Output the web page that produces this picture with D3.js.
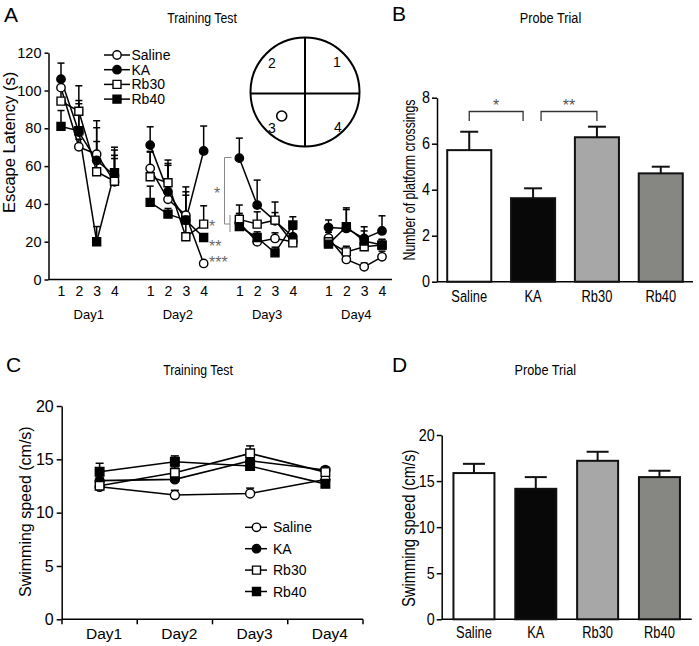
<!DOCTYPE html>
<html><head><meta charset="utf-8">
<script src="https://cdn.jsdelivr.net/npm/d3@7"></script>
<style>body{margin:0;background:#fff} svg{display:block;background:#fff}</style>
</head><body><svg id="c" width="699" height="646"></svg>
<script>
// ---------------- DATA ----------------
const groups = ["Saline", "KA", "Rb30", "Rb40"];
const days = ["Day1", "Day2", "Day3", "Day4"];
const trials = ["1", "2", "3", "4"];
const quadrants = ["1", "2", "3", "4"];

// Panel A: escape latency (s), 4 days x 4 trials (day-major)
const latencyTicks = [0, 20, 40, 60, 80, 100, 120];
const salineLatency = [101.5, 70.2, 66.3, 51.7, 58.8, 42.4, 34.0, 8.5, 30.0, 19.9, 21.7, 20.0, 22.0, 10.6, 6.7, 12.0];
const kaLatency     = [106.0, 78.0, 63.0, 55.0, 71.1, 46.4, 31.4, 68.0, 64.2, 39.4, 31.0, 22.6, 27.5, 27.0, 21.7, 25.7];
const rb30Latency   = [94.4, 89.0, 57.0, 52.0, 54.4, 51.2, 22.6, 29.3, 31.8, 29.3, 31.4, 19.4, 20.0, 14.6, 17.3, 18.2];
const rb40Latency   = [81.0, 78.7, 20.0, 56.5, 40.8, 34.6, 31.4, 22.2, 28.0, 22.2, 14.1, 28.8, 18.7, 27.9, 20.4, 18.2];
const salineLatencyErr = [5, 4, 14, 14, 9, 18, 15, 1, 4, 3, 3, 3, 3, 2, 2, 3];
const kaLatencyErr     = [8.5, 15, 21, 13.5, 9.7, 15, 15, 13.2, 10.6, 13.2, 10, 4, 4, 10, 4, 8];
const rb30LatencyErr   = [6, 13.5, 16, 12, 13, 12, 22, 9.7, 7.6, 6.5, 4, 3, 3, 3, 3, 3];
const rb40LatencyErr   = [8.4, 16, 8, 13.5, 8.6, 3, 3, 2, 7, 3, 3, 4.4, 3, 10, 7.5, 3];

// Panel B: number of platform crossings
const crossingTicks = [0, 2, 4, 6, 8];
const crossings = [5.72, 3.63, 6.28, 4.71];
const crossingsErr = [0.80, 0.43, 0.46, 0.29];
const crossingStars = ["*", "**"];

// Panel C: swimming speed (cm/s) per training day
const speedTicks = [0, 5, 10, 15, 20];
const salineSpeed = [12.43, 11.65, 11.80, 13.10];
const kaSpeed     = [13.00, 13.12, 14.87, 14.00];
const rb30Speed   = [12.52, 13.74, 15.56, 13.80];
const rb40Speed   = [13.83, 14.77, 14.37, 12.70];
const salineSpeedErr = [0.2, 0.45, 0.5, 0.2];
const kaSpeedErr     = [0.3, 0.3, 0.4, 0.3];
const rb30SpeedErr   = [0.3, 0.55, 0.7, 0.3];
const rb40SpeedErr   = [0.8, 0.55, 0.3, 0.3];

// Panel D: swimming speed (cm/s) in probe trial
const probeSpeed = [15.87, 14.16, 17.20, 15.43];
const probeSpeedErr = [1.00, 1.27, 0.98, 0.69];

// ---------------- STYLE ----------------
const REG = "'Liberation Sans', Arial, Helvetica, sans-serif";
const NAR = "NARROW";
const marker = {
  Saline: {type: d3.symbolCircle, size: 55, fill: "#fff"},
  KA:     {type: d3.symbolCircle, size: 55, fill: "#000"},
  Rb30:   {type: d3.symbolSquare, size: 64, fill: "#fff"},
  Rb40:   {type: d3.symbolSquare, size: 64, fill: "#000"}
};
const barFill = {Saline: "#ffffff", KA: "#080808", Rb30: "#a7a7a7", Rb40: "#868682"};

const svg = d3.select("#c");

function narrowen(sel, factor) {
  sel.each(function () {
    const w = this.getComputedTextLength();
    if (w > 0) d3.select(this).attr("textLength", w * factor).attr("lengthAdjust", "spacingAndGlyphs");
  });
}
function styleAxis(g, font, size, factor = 0.82) {
  g.attr("font-family", REG).attr("font-size", size);
  g.selectAll("text").attr("fill", "#000");
  g.selectAll("line").attr("stroke", "#000").attr("stroke-width", 1.5);
  g.select(".domain").attr("stroke", "#000").attr("stroke-width", 1.5);
  if (font === NAR) narrowen(g.selectAll("text"), factor);
}
function text(x, y, s, opts = {}) {
  const t = svg.append("text").attr("x", x).attr("y", y).text(s)
    .attr("font-family", REG).attr("font-size", opts.size || 14)
    .attr("fill", opts.fill || "#000").attr("text-anchor", opts.anchor || "start");
  if (opts.rotate) t.attr("transform", `rotate(-90,${x},${y})`);
  if (opts.font === NAR) narrowen(t, opts.factor || 0.82);
  return t;
}

// ---------------- PANEL A ----------------
const latency = {Saline: salineLatency, KA: kaLatency, Rb30: rb30Latency, Rb40: rb40Latency};
const latencyErr = {Saline: salineLatencyErr, KA: kaLatencyErr, Rb30: rb30LatencyErr, Rb40: rb40LatencyErr};
const slot = (d, t) => d * 5 + t;
const xA = d3.scaleLinear().domain([0, 18]).range([61, 382]);
const yA = d3.scaleLinear().domain([0, 120]).range([279.5, 52.7]);

text(4, 22, "A", {size: 21});
text(202, 23, "Training Test", {font: NAR, size: 15, anchor: "middle"});
text(14.5, 142.5, "Escape Latency (s)", {size: 16.5, anchor: "middle", rotate: true});

const gyA = svg.append("g").attr("transform", "translate(48.5,0)")
  .call(d3.axisLeft(yA).tickValues(latencyTicks).tickSize(4).tickSizeOuter(0).tickPadding(3));
styleAxis(gyA, REG, 14.5);
svg.append("line").attr("x1", 48.5).attr("x2", 392).attr("y1", 279.5).attr("y2", 279.5)
  .attr("stroke", "#000").attr("stroke-width", 1.5);

const slotsAll = [], slotLabel = {};
days.forEach((d, di) => trials.forEach((t, ti) => { slotsAll.push(slot(di, ti)); slotLabel[slot(di, ti)] = t; }));
const gxA = svg.append("g").attr("transform", "translate(0,279.5)")
  .call(d3.axisBottom(xA).tickValues(slotsAll).tickFormat(v => slotLabel[v]).tickSize(0).tickPadding(7));
styleAxis(gxA, REG, 14);
gxA.select(".domain").remove();
gxA.selectAll("text").attr("dy", "0.71em");
days.forEach((d, di) => {
  text((xA(slot(di, 0)) + xA(slot(di, 3))) / 2 + 1, 318.5, d, {size: 13, anchor: "middle"});
});

// error bars A
groups.forEach(g => {
  days.forEach((d, di) => trials.forEach((t, ti) => {
    const i = di * 4 + ti, x = xA(slot(di, ti));
    const v = latency[g][i], e = latencyErr[g][i];
    svg.append("line").attr("x1", x).attr("x2", x).attr("y1", yA(v)).attr("y2", yA(v + e))
      .attr("stroke", "#000").attr("stroke-width", 1.5);
    svg.append("line").attr("x1", x - 3.5).attr("x2", x + 3.5).attr("y1", yA(v + e)).attr("y2", yA(v + e))
      .attr("stroke", "#000").attr("stroke-width", 1.5);
  }));
});
// lines A
const lineA = d3.line().x(p => xA(p[0])).y(p => yA(p[1]));
groups.forEach(g => {
  days.forEach((d, di) => {
    const pts = trials.map((t, ti) => [slot(di, ti), latency[g][di * 4 + ti]]);
    svg.append("path").attr("d", lineA(pts)).attr("fill", "none").attr("stroke", "#000").attr("stroke-width", 1.5);
  });
});
// markers A
groups.forEach(g => {
  const sym = d3.symbol().type(marker[g].type).size(marker[g].size);
  days.forEach((d, di) => trials.forEach((t, ti) => {
    svg.append("path").attr("d", sym())
      .attr("transform", `translate(${xA(slot(di, ti))},${yA(latency[g][di * 4 + ti])})`)
      .attr("fill", marker[g].fill).attr("stroke", "#000").attr("stroke-width", 1.4);
  }));
});
// legend A
groups.forEach((g, i) => {
  const y = 55 + i * 14.7;
  svg.append("line").attr("x1", 104).attr("x2", 130).attr("y1", y).attr("y2", y).attr("stroke", "#000").attr("stroke-width", 1.5);
  svg.append("path").attr("d", d3.symbol().type(marker[g].type).size(marker[g].size)())
    .attr("transform", `translate(117,${y})`).attr("fill", marker[g].fill).attr("stroke", "#000").attr("stroke-width", 1.4);
  text(131.5, y + 5, g, {size: 14});
});
// significance A
const gray = "#6a6a6a";
svg.append("path").attr("d", "M231.5,157.5H224.5V224H230M230,215V232")
  .attr("fill", "none").attr("stroke", "#888").attr("stroke-width", 1);
text(217, 199, "*", {size: 16, fill: gray, anchor: "middle"});
text(209, 232, "*", {size: 16, fill: gray});
text(209, 252, "**", {size: 16, fill: gray});
text(209, 267.5, "***", {size: 16, fill: gray});

// maze inset
const mz = {cx: 305, cy: 92, r: 54.5};
svg.append("circle").attr("cx", mz.cx).attr("cy", mz.cy).attr("r", mz.r).attr("fill", "none").attr("stroke", "#000").attr("stroke-width", 2);
svg.append("line").attr("x1", mz.cx).attr("x2", mz.cx).attr("y1", mz.cy - mz.r).attr("y2", mz.cy + mz.r).attr("stroke", "#000").attr("stroke-width", 2);
svg.append("line").attr("x1", mz.cx - mz.r).attr("x2", mz.cx + mz.r).attr("y1", mz.cy + 1.5).attr("y2", mz.cy + 1.5).attr("stroke", "#000").attr("stroke-width", 2);
const qPos = [[337, 67], [272, 68], [272, 133], [338, 132]];
quadrants.forEach((q, i) => text(qPos[i][0], qPos[i][1], q, {size: 14, anchor: "middle"}));
svg.append("circle").attr("cx", 281.7).attr("cy", 116).attr("r", 5).attr("fill", "#fff").attr("stroke", "#000").attr("stroke-width", 1.6);

// ---------------- PANEL B ----------------
const xB = d3.scaleBand().domain(groups).range([437, 693]).paddingInner(0.31).paddingOuter(0.16);
const yB = d3.scaleLinear().domain([0, 8]).range([281.7, 97.7]);
text(392, 21, "B", {size: 21});
text(550.5, 23.3, "Probe Trial", {font: NAR, size: 15.5, anchor: "middle"});
text(414.5, 180, "Number of platform crossings", {font: NAR, size: 16, factor: 0.77, anchor: "middle", rotate: true});
const gyB = svg.append("g").attr("transform", "translate(437,0)")
  .call(d3.axisLeft(yB).tickValues(crossingTicks).tickSize(5).tickSizeOuter(0).tickPadding(2));
styleAxis(gyB, NAR, 16.3, 0.88);
const gxB = svg.append("g").attr("transform", "translate(0,281.7)")
  .call(d3.axisBottom(xB).tickSize(0).tickPadding(8.5));
styleAxis(gxB, NAR, 16.3, 0.79);
gxB.select(".domain").attr("d", "M437,0H693");
groups.forEach((g, i) => {
  const x = xB(g), w = xB.bandwidth(), cx = x + w / 2;
  const top = yB(crossings[i] + crossingsErr[i]);
  svg.append("line").attr("x1", cx).attr("x2", cx).attr("y1", yB(crossings[i])).attr("y2", top).attr("stroke", "#111").attr("stroke-width", 2);
  svg.append("line").attr("x1", cx - 9).attr("x2", cx + 9).attr("y1", top).attr("y2", top).attr("stroke", "#111").attr("stroke-width", 2);
  svg.append("rect").attr("x", x).attr("y", yB(crossings[i])).attr("width", w).attr("height", yB(0) - yB(crossings[i]))
    .attr("fill", barFill[g]).attr("stroke", "#111").attr("stroke-width", 2);
});
// brackets B
const brk = [[xB("Saline") + xB.bandwidth() / 2, xB("KA") + xB.bandwidth() / 2 - 10],
             [xB("KA") + xB.bandwidth() / 2 + 8, xB("Rb30") + xB.bandwidth() / 2]];
brk.forEach((b, i) => {
  svg.append("path").attr("d", `M${b[0]},121V111.5H${b[1]}V121`).attr("fill", "none").attr("stroke", "#333").attr("stroke-width", 1.3);
  text((b[0] + b[1]) / 2, 110.5, crossingStars[i], {size: 16, fill: "#555", anchor: "middle"});
});

// ---------------- PANEL C ----------------
const speed = {Saline: salineSpeed, KA: kaSpeed, Rb30: rb30Speed, Rb40: rb40Speed};
const speedErr = {Saline: salineSpeedErr, KA: kaSpeedErr, Rb30: rb30SpeedErr, Rb40: rb40SpeedErr};
const xC = d3.scaleBand().domain(days).range([62, 363]);
const yC = d3.scaleLinear().domain([0, 20]).range([619.3, 406]);
text(6, 372, "C", {size: 21});
text(198, 375, "Training Test", {font: NAR, size: 15, anchor: "middle"});
text(31.5, 511.7, "Swimming speed (cm/s)", {size: 16, anchor: "middle", rotate: true});
const gyC = svg.append("g").attr("transform", "translate(61.7,0)")
  .call(d3.axisLeft(yC).tickValues(speedTicks).tickSize(5).tickSizeOuter(0).tickPadding(3));
styleAxis(gyC, REG, 16);
const gxC = svg.append("g").attr("transform", "translate(0,619.3)")
  .call(d3.axisBottom(xC).tickSize(0).tickPadding(9));
styleAxis(gxC, REG, 15.5);
gxC.select(".domain").attr("d", "M61.7,0H363");
gxC.selectAll(".tick text").attr("dx", 4.5);
[0, 1, 2, 3, 4].forEach(k => {
  const x = k < 4 ? xC(days[k]) : xC.range()[1];
  gxC.append("line").attr("x1", x).attr("x2", x).attr("y1", 0).attr("y2", 5).attr("stroke", "#000").attr("stroke-width", 1.5);
});
const cxC = d => xC(d) + xC.bandwidth() / 2;
groups.forEach(g => {
  days.forEach((d, di) => {
    const v = speed[g][di], e = speedErr[g][di], x = cxC(d);
    svg.append("line").attr("x1", x).attr("x2", x).attr("y1", yC(v)).attr("y2", yC(v + e)).attr("stroke", "#000").attr("stroke-width", 1.5);
    svg.append("line").attr("x1", x - 4).attr("x2", x + 4).attr("y1", yC(v + e)).attr("y2", yC(v + e)).attr("stroke", "#000").attr("stroke-width", 1.5);
  });
});
const lineC = d3.line().x((v, i) => cxC(days[i])).y(v => yC(v));
groups.forEach(g => {
  svg.append("path").attr("d", lineC(speed[g])).attr("fill", "none").attr("stroke", "#000").attr("stroke-width", 1.6);
});
groups.forEach(g => {
  const sym = d3.symbol().type(marker[g].type).size(marker[g].size * 1.15);
  days.forEach((d, di) => {
    svg.append("path").attr("d", sym()).attr("transform", `translate(${cxC(d)},${yC(speed[g][di])})`)
      .attr("fill", marker[g].fill).attr("stroke", "#000").attr("stroke-width", 1.4);
  });
});
groups.forEach((g, i) => {
  const y = 527.3 + i * 21.4;
  svg.append("line").attr("x1", 245).attr("x2", 267).attr("y1", y).attr("y2", y).attr("stroke", "#000").attr("stroke-width", 1.5);
  svg.append("path").attr("d", d3.symbol().type(marker[g].type).size(marker[g].size)())
    .attr("transform", `translate(256.5,${y})`).attr("fill", marker[g].fill).attr("stroke", "#000").attr("stroke-width", 1.4);
  text(273, y + 5, g, {size: 14});
});

// ---------------- PANEL D ----------------
const xD = d3.scaleBand().domain(groups).range([441.7, 691.7]).paddingInner(0.337).paddingOuter(0.19);
const yD = d3.scaleLinear().domain([0, 20]).range([619.3, 435]);
text(392, 372, "D", {size: 21});
text(545.3, 375, "Probe Trial", {font: NAR, size: 15.5, anchor: "middle"});
text(415, 528.3, "Swimming speed (cm/s)", {font: NAR, size: 18, anchor: "middle", rotate: true});
const gyD = svg.append("g").attr("transform", "translate(441.7,0)")
  .call(d3.axisLeft(yD).tickValues(speedTicks).tickSize(5).tickSizeOuter(0).tickPadding(2));
styleAxis(gyD, NAR, 16.3, 0.88);
const gxD = svg.append("g").attr("transform", "translate(0,619.3)")
  .call(d3.axisBottom(xD).tickSize(0).tickPadding(7.5));
styleAxis(gxD, NAR, 16.3, 0.79);
gxD.select(".domain").attr("d", "M441.7,0H691.7");
groups.forEach((g, i) => {
  const x = xD(g), w = xD.bandwidth(), cx = x + w / 2;
  const top = yD(probeSpeed[i] + probeSpeedErr[i]);
  svg.append("line").attr("x1", cx).attr("x2", cx).attr("y1", yD(probeSpeed[i])).attr("y2", top).attr("stroke", "#111").attr("stroke-width", 2);
  svg.append("line").attr("x1", cx - 11).attr("x2", cx + 11).attr("y1", top).attr("y2", top).attr("stroke", "#111").attr("stroke-width", 2);
  svg.append("rect").attr("x", x).attr("y", yD(probeSpeed[i])).attr("width", w).attr("height", yD(0) - yD(probeSpeed[i]))
    .attr("fill", barFill[g]).attr("stroke", "#111").attr("stroke-width", 2);
});
</script>
</body></html>
